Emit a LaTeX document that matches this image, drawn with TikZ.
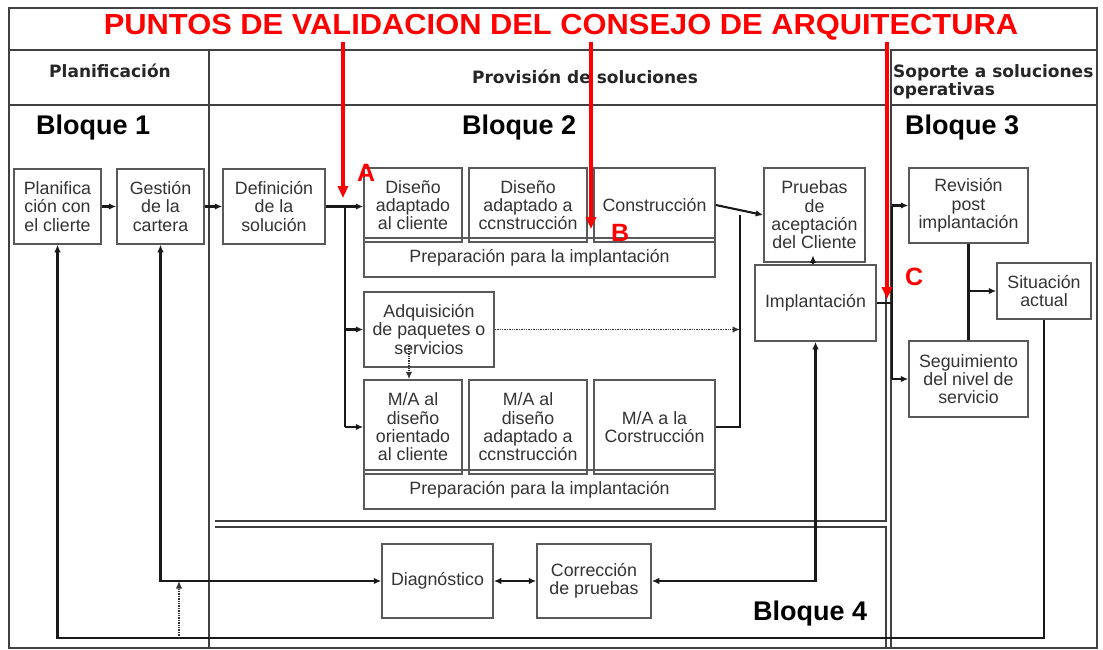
\documentclass[tikz,border=0pt]{standalone}
\usepackage{fontspec}
\setmainfont{Liberation Sans}
\newfontfamily\hdrfont{DejaVu Sans}
\usetikzlibrary{arrows.meta}
\begin{document}
\begin{tikzpicture}[x=1pt,y=-1pt,
  box/.style={draw=black!65, line width=1.5pt, align=center, text=black!80,
    font=\fontsize{17.8}{18.3}\selectfont, inner sep=0pt},
  sz/.style 2 args={minimum width=#1pt, minimum height=#2pt},
  conn/.style={draw=black!90, line width=2.1pt},
  dots/.style={draw=black!80, line width=1.4pt, densely dotted},
  tip/.style={-{Latex[length=7.5pt,width=6.5pt]}},
  tips/.style={{Latex[length=7.5pt,width=6.5pt]}-{Latex[length=7.5pt,width=6.5pt]}},
  redarrow/.style={draw=red, line width=3.4pt, -{Triangle[length=12pt,width=10pt]}},
  frame/.style={draw=black!75, line width=1.3pt},
  hdr/.style={font=\hdrfont\bfseries\fontsize{17}{18}\selectfont, text=black!85, inner sep=0pt},
  bloque/.style={font=\bfseries\fontsize{27}{28}\selectfont, text=black, inner sep=0pt, anchor=base west},
  redlbl/.style={font=\bfseries\fontsize{25}{26}\selectfont, text=red, inner sep=0pt, anchor=base west}]
\useasboundingbox (0,0) rectangle (1103,650);
\fill[white] (0,0) rectangle (1103,650);

% frame and columns
\draw[frame] (9,8) rectangle (1097,648);
\draw[frame] (9,50) -- (886,50);
\draw[frame] (9,105) -- (886,105);
\draw[frame] (209,50) -- (209,648);
\draw[frame] (886,50) -- (886,521) -- (215,521);
\draw[frame] (215,527) -- (886,527) -- (886,648);
\draw[frame] (891,50) rectangle (1097,648);
\draw[frame] (891,105) -- (1097,105);

% title
\node[font=\bfseries\fontsize{29}{30}\selectfont, text=red, inner sep=0pt, anchor=base] (title) at (561,35)
  {\scalebox{1.064}[1]{PUNTOS DE VALIDACION DEL CONSEJO DE ARQUITECTURA}};

% headers
\node[hdr, anchor=base] (hplan) at (110,78) {Planificación};
\node[hdr, anchor=base] (hprov) at (585,84) {Provisión de soluciones};
\node[hdr, anchor=base west] (hsop1) at (893,78) {Soporte a soluciones};
\node[hdr, anchor=base west] (hsop2) at (893,96) {operativas};

\node[bloque] (bl1) at (36,135) {Bloque 1};
\node[bloque] (bl2) at (462,135) {Bloque 2};
\node[bloque] (bl3) at (905,135) {Bloque 3};
\node[bloque] (bl4) at (753,620) {Bloque 4};

% boxes
\node[box, sz={87}{75}] (plan) at (57.5,206.5) {Planifica\\ción con\\el clierte};
\node[box, sz={87}{75}] (gest) at (160.5,206.5) {Gestión\\de la\\cartera};
\node[box, sz={102}{75}] (defi) at (274,206.5) {Definición\\de la\\solución};
\node[box, sz={98}{74}] (dcli) at (413,205) {Diseño\\adaptado\\al cliente};
\node[box, sz={118}{74}] (dcon) at (528,205) {Diseño\\adaptado a\\ccnstrucción};
\node[box, sz={121}{74}] (cons) at (654.5,205) {Construcción};
\node[box, sz={351}{39}] (prep1) at (539.5,257.5) {Preparación para la implantación};
\node[box, sz={101}{94}] (prue) at (814.5,215) {Pruebas\\de\\aceptación\\del Cliente};
\node[box, sz={121}{76}] (impl) at (815.5,303) {Implantación};
\node[box, sz={130}{75}] (adq) at (429,329.5) {Adquisición\\de paquetes o\\servicios};
\node[box, sz={98}{94}] (ma1) at (413,427) {M/A al\\diseño\\orientado\\al cliente};
\node[box, sz={118}{94}] (ma2) at (528,427) {M/A al\\diseño\\adaptado a\\ccnstrucción};
\node[box, sz={121}{94}] (ma3) at (654.5,427) {M/A a la\\Corstrucción};
\node[box, sz={351}{39}] (prep2) at (539.5,489.5) {Preparación para la implantación};
\node[box, sz={119}{75}] (revi) at (968.5,205.5) {Revisión\\post\\implantación};
\node[box, sz={94}{56}] (situ) at (1044,291) {Situación\\actual};
\node[box, sz={119}{76}] (segu) at (968.5,379) {Seguimiento\\del nivel de\\servicio};
\node[box, sz={111}{74}] (diag) at (437.5,581) {Diagnóstico};
\node[box, sz={114}{74}] (corr) at (594,581) {Corrección\\de pruebas};

% junction coordinates
\coordinate (b1) at (345,206.5);
\coordinate (v1) at (740,215);
\coordinate (v2) at (892,303);
\coordinate (bot) at (0,638);
\coordinate (d1) at (409,346);
\coordinate (d2) at (179,638);

% connectors
\draw[conn,tip] (plan.east) -- (gest.west);
\draw[conn,tip] (gest.east) -- (defi.west);
\draw[conn,tip] (defi.east) -- (dcli.west |- defi.east);
\draw[conn] (b1) -- (b1 |- ma1.west);
\draw[conn,tip] (b1 |- adq.west) -- (adq.west);
\draw[conn,tip] (b1 |- ma1.west) -- (ma1.west);
\draw[conn,tip] (cons.east) -- (prue.west);
\draw[conn] (v1) -- (v1 |- ma3.east) -- (ma3.east);
\draw[dots,tip] (adq.east) -- (adq.east -| v1);
\draw[dots,tip] (d1) -- (d1 |- ma1.north);
\draw[conn,tip] ([xshift=-2.5pt]impl.north) -- ++(0,-9);
\draw[conn] (impl.east) -- (v2);
\draw[conn] (v2 |- revi.west) -- (v2 |- segu.west);
\draw[conn,tip] (v2 |- revi.west) -- (revi.west);
\draw[conn,tip] (v2 |- segu.west) -- (segu.west);
\draw[conn] (revi.south) -- (segu.north);
\draw[conn,tip] (revi.south |- situ.west) -- (situ.west);
\draw[conn,tip] (situ.south) -- (situ.south |- bot) -- (plan.south |- bot) -- (plan.south);
\draw[conn,tips] (gest.south) -- (gest.south |- diag.west) -- (diag.west);
\draw[dots,tip] (d2) -- (d2 |- diag.west);
\draw[conn,tips] (diag.east) -- (corr.west);
\draw[conn,tips] (corr.east) -- (corr.east -| impl.south) -- (impl.south);

% validation points
\coordinate (ra0) at (343,42);
\coordinate (ra1) at (343,198);
\coordinate (rb0) at (591,42);
\coordinate (rb1) at (591,229);
\coordinate (rc0) at (887,42);
\coordinate (rc1) at (887,299);
\draw[redarrow] (ra0) -- (ra1);
\draw[redarrow] (rb0) -- (rb1);
\draw[redarrow] (rc0) -- (rc1);
\node[redlbl] (la) at (357,182) {A};
\node[redlbl] (lb) at (611,241) {B};
\node[redlbl] (lc) at (905,285) {C};
\end{tikzpicture}
\end{document}
